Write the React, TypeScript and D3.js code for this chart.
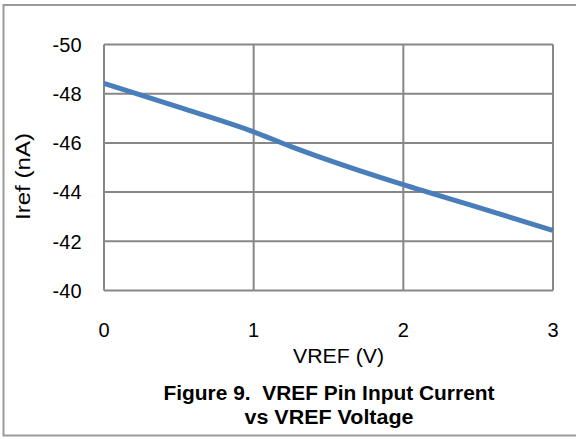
import React from "react";
import * as d3 from "d3";

const vrefValues = [0, 0.5, 1.0, 1.25, 1.5, 2.0, 2.5, 3.0];
const irefValues = [-48.42, -47.45, -46.45, -45.85, -45.3, -44.3, -43.38, -42.44];
const xTicks = [0, 1, 2, 3];
const yTicks = [-50, -48, -46, -44, -42, -40];
const xTitle = "VREF (V)";
const yTitle = "Iref (nA)";
const captionLines = ["Figure 9.  VREF Pin Input Current", "vs VREF Voltage"];
const captionWidths = [331, 169];

const W = 576;
const H = 439;
const left = 104;
const right = 553;
const top = 44.5;
const bottom = 290.5;

export default function App() {
  const x = d3.scaleLinear().domain([0, 3]).range([left, right]);
  const y = d3.scaleLinear().domain([-50, -40]).range([top, bottom]);
  const pts = vrefValues.map((v, i) => [v, irefValues[i]] as [number, number]);
  const line = d3
    .line<[number, number]>()
    .x((d) => x(d[0]))
    .y((d) => y(d[1]))
    .curve(d3.curveMonotoneX);
  const grid = "#878787";
  const font = "'Liberation Sans', Arial, sans-serif";
  return (
    <svg
      width={W}
      height={H}
      style={{ position: "absolute", left: 0, top: 0, background: "#fff" }}
    >
      <rect x={3.5} y={5} width={W + 10} height={430.5} fill="#fff" stroke="#9a9a9a" strokeWidth={2} />
      {yTicks.map((t) => (
        <line key={"gy" + t} x1={left} x2={right} y1={y(t)} y2={y(t)} stroke={grid} strokeWidth={2} />
      ))}
      {xTicks.map((t) => (
        <line key={"gx" + t} x1={x(t)} x2={x(t)} y1={top} y2={bottom} stroke={grid} strokeWidth={2} />
      ))}
      <path d={line(pts) || ""} fill="none" stroke="#4a7ebb" strokeWidth={5} strokeLinecap="butt" />
      {yTicks.map((t) => (
        <text key={"ty" + t} x={81.5} y={y(t)} dy="0.36em" textAnchor="end" fontFamily={font} fontSize={20} fill="#000">
          {t}
        </text>
      ))}
      {xTicks.map((t) => (
        <text key={"tx" + t} x={x(t)} y={336.5} textAnchor="middle" fontFamily={font} fontSize={20} fill="#000">
          {t}
        </text>
      ))}
      <text x={338.5} y={363} textAnchor="middle" fontFamily={font} fontSize={20} fill="#000" textLength={91} lengthAdjust="spacingAndGlyphs">
        {xTitle}
      </text>
      <text
        transform={`translate(30, 176.5) rotate(-90)`}
        textAnchor="middle"
        fontFamily={font}
        fontSize={21}
        fill="#000"
        textLength={87}
        lengthAdjust="spacingAndGlyphs"
      >
        {yTitle}
      </text>
      {captionLines.map((c, i) => (
        <text
          key={c}
          x={329}
          y={400 + i * 24}
          textAnchor="middle"
          fontFamily={font}
          fontWeight="bold"
          fontSize={20}
          fill="#000"
          textLength={captionWidths[i]}
          lengthAdjust="spacingAndGlyphs"
          style={{ whiteSpace: "pre" }}
        >
          {c}
        </text>
      ))}
    </svg>
  );
}
